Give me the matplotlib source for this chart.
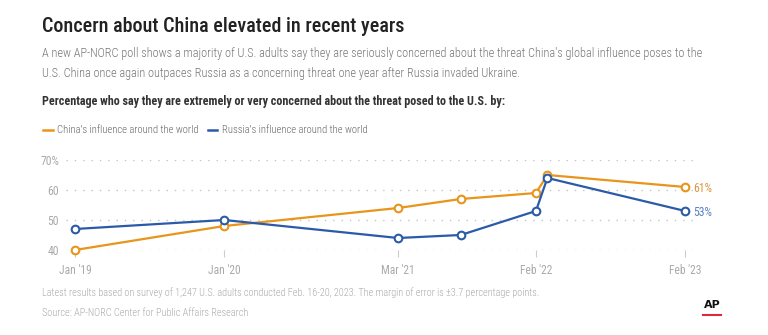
import datetime as dt
import matplotlib
matplotlib.use("Agg")
import matplotlib.pyplot as plt

# survey dates and shares (%) worried about each threat
dates = [dt.date(2019, 1, 1), dt.date(2020, 1, 1), dt.date(2021, 3, 1),
         dt.date(2021, 8, 1), dt.date(2022, 2, 1), dt.date(2022, 3, 1),
         dt.date(2023, 2, 1)]
china = [40, 48, 54, 57, 59, 65, 61]
russia = [47, 50, 44, 45, 53, 64, 53]

tick_dates = [dt.date(2019, 1, 1), dt.date(2020, 1, 1), dt.date(2021, 3, 1),
              dt.date(2022, 2, 1), dt.date(2023, 2, 1)]
tick_labels = ["Jan '19", "Jan '20", "Mar '21", "Feb '22", "Feb '23"]
ytick_vals = [40, 50, 60, 70]
ytick_labels = ["40", "50", "60", "70%"]

ORANGE = "#E8951C"
BLUE = "#2B5BA8"
plt.rcParams["font.family"] = ["Roboto Condensed", "Barlow Condensed", "DejaVu Sans"]

W, H = 768, 335
fig = plt.figure(figsize=(W / 100, H / 100), dpi=100)

def px(x, y):
    return x / W, 1 - y / H

# axes: 66..693 px wide, 160..250 px tall (70 -> 40)
ax = fig.add_axes([66 / W, (H - 250) / H, (693 - 66) / W, 90 / H])
ax.set_xlim(dt.date(2018, 12, 10), dt.date(2023, 2, 20))
ax.set_ylim(40, 70)

for v in ytick_vals:
    ax.axhline(v, color="#c4c4c4", lw=1, ls=(0, (1, 5)), zorder=0)

ax.plot(dates, china, color=ORANGE, lw=1.6, marker="o", ms=5.5,
        mfc="white", mec=ORANGE, mew=1.5, clip_on=False, zorder=3)
ax.plot(dates, russia, color=BLUE, lw=1.6, marker="o", ms=5.5,
        mfc="white", mec=BLUE, mew=1.5, clip_on=False, zorder=3)

ax.annotate(f"{china[-1]}%", (dates[-1], china[-1]), xytext=(6, -1),
            textcoords="offset points", va="center", ha="left",
            color="#D99540", fontsize=8.5)
ax.annotate(f"{russia[-1]}%", (dates[-1], russia[-1]), xytext=(6, -1),
            textcoords="offset points", va="center", ha="left",
            color="#5A80C4", fontsize=8.5)

for s in ax.spines.values():
    s.set_visible(False)
ax.set_xticks(tick_dates)
ax.set_xticklabels(tick_labels)
ax.set_yticks(ytick_vals)
ax.set_yticklabels(ytick_labels)
ax.tick_params(axis="x", length=5, width=0.8, color="#cccccc", pad=5,
               labelsize=8.3, labelcolor="#aaaaaa")
ax.tick_params(axis="y", length=0, pad=5, labelsize=8.5, labelcolor="#aaaaaa")

# header block
fig.text(*px(42, 27), "Concern about China elevated in recent years",
         fontsize=14.5, fontweight="medium", color="#222222", va="center")
fig.text(*px(42, 54), "A new AP-NORC poll shows a majority of U.S. adults say they are "
         "seriously concerned about the threat China's global influence poses to the",
         fontsize=8.8, fontweight="light", color="#777777", va="center")
fig.text(*px(42, 74), "U.S. China once again outpaces Russia as a concerning threat one "
         "year after Russia invaded Ukraine.",
         fontsize=8.8, fontweight="light", color="#777777", va="center")
fig.text(*px(42, 102), "Percentage who say they are extremely or very concerned about "
         "the threat posed to the U.S. by:",
         fontsize=8.7, fontweight="semibold", color="#333333", va="center")

# legend
fig.lines.append(plt.Line2D([43 / W, 53 / W], [1 - 130 / H] * 2, color=ORANGE,
                            lw=1.8, transform=fig.transFigure))
fig.text(*px(57, 130), "China's influence around the world", fontsize=7.7,
         fontweight="light", color="#666666", va="center")
fig.lines.append(plt.Line2D([208 / W, 217 / W], [1 - 130 / H] * 2, color=BLUE,
                            lw=1.8, transform=fig.transFigure))
fig.text(*px(222, 130), "Russia's influence around the world", fontsize=7.7,
         fontweight="light", color="#666666", va="center")

# footer
fig.text(*px(42, 293), "Latest results based on survey of 1,247 U.S. adults conducted "
         "Feb. 16-20, 2023. The margin of error is \u00b13.7 percentage points.",
         fontsize=7.4, fontweight="light", color="#aaaaaa", va="center")
fig.text(*px(42, 313), "Source: AP-NORC Center for Public Affairs Research",
         fontsize=7.4, fontweight="light", color="#aaaaaa", va="center")

fig.text(*px(712, 305), "AP", fontsize=8, fontweight="bold", family="DejaVu Sans",
         color="#111111", ha="center", va="center")
fig.lines.append(plt.Line2D([703 / W, 721 / W], [1 - 315 / H] * 2, color="#e0283c",
                            lw=1.5, transform=fig.transFigure))

fig.savefig("out.png", dpi=100, facecolor="white")
